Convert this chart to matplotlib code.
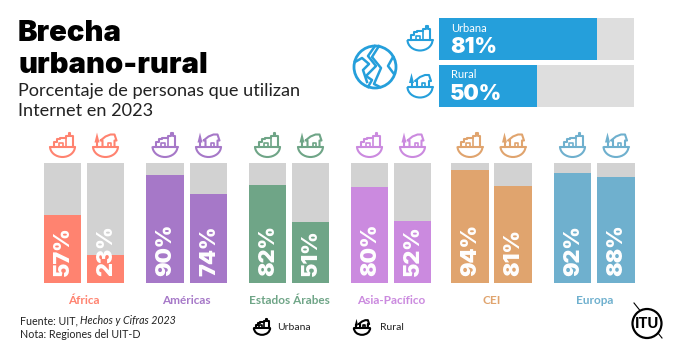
import matplotlib
matplotlib.use('Agg')
import numpy as np
import matplotlib.pyplot as plt
from matplotlib.patches import Arc, Circle

plt.rcParams['font.family'] = ['Lato', 'DejaVu Sans']

regions = ['África', 'Américas', 'Estados Árabes', 'Asia-Pacífico', 'CEI', 'Europa']
urban = [57, 90, 82, 80, 94, 92]
rural = [23, 74, 51, 52, 81, 88]
world_labels = ['Urbana', 'Rural']
world = [81, 50]

colors = ['#FF8370', '#A678C8', '#6FA587', '#CB8ADF', '#E0A46E', '#6FB0CE']
urban_x = [62.5, 165, 267.5, 369.5, 470, 572.5]
rural_x = [105.5, 208.5, 310.5, 412.5, 513, 616]
bar_w = 37.5

fig = plt.figure(figsize=(6.8, 3.56), dpi=100)

# overlay in pixel coords for text and icons
ov = fig.add_axes([0, 0, 1, 1], zorder=3)
ov.set_xlim(0, 680)
ov.set_ylim(356, 0)
ov.axis('off')
ov.patch.set_alpha(0)


def bowl(cx, y, col, s=1.0, lw=1.5):
    r = 12.5 * s
    ov.plot([cx - r, cx + r], [y, y], color=col, lw=lw, solid_capstyle='round')
    ov.add_patch(Arc((cx, y), 2 * r, 21 * s, theta1=0, theta2=180, color=col, lw=lw))


def city(cx, y, col, s=1.0, lw=1.5):
    bowl(cx, y, col, s, lw)
    px = np.array([-9, -9, -6, -6, -3, -3, 3, 3, 6, 6, 7.5, 7.5, 10, 10])
    py = np.array([0, -5, -5, -8, -8, -9, -9, -11, -11, -14, -14, -11, -11, 0])
    ov.plot(cx + px * s, y + py * s, color=col, lw=lw, solid_joinstyle='round')
    ov.plot(cx + np.array([-4, -4, 0, 0]) * s, y + np.array([0, -4, -4, 0]) * s, color=col, lw=lw * 0.8)
    ov.plot(cx + np.array([3, 3]) * s, y + np.array([-9, 0]) * s, color=col, lw=lw * 0.8)


def house(cx, y, col, s=1.0, lw=1.5):
    bowl(cx, y, col, s, lw)
    ov.fill(cx + np.array([-11, -8.5, -6]) * s, y + np.array([-4, -14, -4]) * s, color=col, lw=0)
    ov.plot([cx - 8.5 * s, cx - 8.5 * s], [y, y - 4 * s], color=col, lw=lw)
    px = np.array([-3, -3, -5, 0, 5, 9, 11, 9, 9])
    py = np.array([0, -6, -6, -10, -12, -12, -6, -6, 0])
    ov.plot(cx + px * s, y + py * s, color=col, lw=lw, solid_joinstyle='round')
    ov.plot(cx + np.array([2, 2, 5, 5]) * s, y + np.array([0, -4, -4, 0]) * s, color=col, lw=lw * 0.8)


# bars, y axis is the percentage
ax = fig.add_axes([0, (356 - 283) / 356, 1, 120 / 356], zorder=2)
ax.set_xlim(0, 680)
ax.set_ylim(0, 100)
ax.axis('off')
ax.bar(urban_x, [100] * 6, width=bar_w, color='#D2D2D2')
ax.bar(rural_x, [100] * 6, width=bar_w, color='#D2D2D2')
ax.bar(urban_x, urban, width=bar_w, color=colors)
ax.bar(rural_x, rural, width=bar_w, color=colors)

for i in range(6):
    for x, v in ((urban_x[i], urban[i]), (rural_x[i], rural[i])):
        ov.text(x + 0.5, 276, f'{v}%', rotation=90, ha='center', va='bottom', color='white',
                fontsize=15.5, fontweight='black', family='Inter')
    city(urban_x[i], 146.5, colors[i])
    house(rural_x[i], 146.5, colors[i])
    ov.text((urban_x[i] + rural_x[i]) / 2, 300, regions[i], ha='center', va='center',
            color=colors[i], fontsize=8.5, fontweight='bold')

# world bars, top right
ax2 = fig.add_axes([439 / 680, (356 - 107) / 356, 195 / 680, 89 / 356], zorder=2)
ax2.set_xlim(0, 100)
ax2.set_ylim(1.62, -0.5)
ax2.axis('off')
ax2.barh([0, 1.12], [100, 100], height=1, color='#DEDEDE')
ax2.barh([0, 1.12], world, height=1, color='#259FDB')

for lab, v, y in zip(world_labels, world, (28, 75)):
    ov.text(451, y, lab, color='white', fontsize=8, va='center')
    ov.text(450, y + 25, f'{v}%', color='white', fontsize=15.5, fontweight='black', family='Inter', va='baseline')

city(420, 40, '#259FDB')
house(420, 87, '#259FDB')

# globe
ov.add_patch(Circle((375, 67), 21, fill=False, ec='#259FDB', lw=2))
ov.plot([375, 368, 376, 366, 372, 368], [46, 56, 66, 76, 80, 87], color='#259FDB', lw=1.8)
ov.plot([379, 372, 381, 374, 380], [46, 57, 68, 84, 87], color='#259FDB', lw=1.8)
ov.plot([355, 362, 369, 363, 367], [62, 58, 64, 70, 82], color='#259FDB', lw=1.8)
ov.plot([393, 388, 394], [57, 66, 74], color='#259FDB', lw=1.8)

# titles
ov.text(18, 41, 'Brecha', fontsize=21, fontweight='black', family='Inter', va='baseline', color='black')
ov.text(18, 73, 'urbano-rural', fontsize=21, fontweight='black', family='Inter', va='baseline', color='black')
ov.text(18, 96, 'Porcentaje de personas que utilizan', fontsize=13.1, va='baseline', color='#222222')
ov.text(18, 116, 'Internet en 2023', fontsize=13.1, va='baseline', color='#222222')

# footer
ov.text(20, 321, 'Fuente: UIT, ', fontsize=7.7, va='center', color='#222222')
ov.text(80, 321, 'Hechos y Cifras 2023', fontsize=7.7, va='center', style='italic', color='#222222')
ov.text(20, 334, 'Nota: Regiones del UIT-D', fontsize=7.7, va='center', color='#222222')

city(262, 328, 'black', 0.65, 1.5)
ov.text(277, 328, 'Urbana', fontsize=7.5, va='center', color='#222222')
house(362, 328, 'black', 0.65, 1.5)
ov.text(380, 328, 'Rural', fontsize=7.5, va='center', color='#222222')

# ITU logo
ov.plot([634, 662], [303, 338], color='black', lw=0.8)
ov.add_patch(Circle((647, 323.5), 14.5, fc='white', ec='black', lw=1.6, zorder=2.5))
ov.text(647, 324, 'ITU', fontsize=10.5, fontweight='black', ha='center', va='center',
        color='black', zorder=4)

fig.savefig('out.png', dpi=100)
